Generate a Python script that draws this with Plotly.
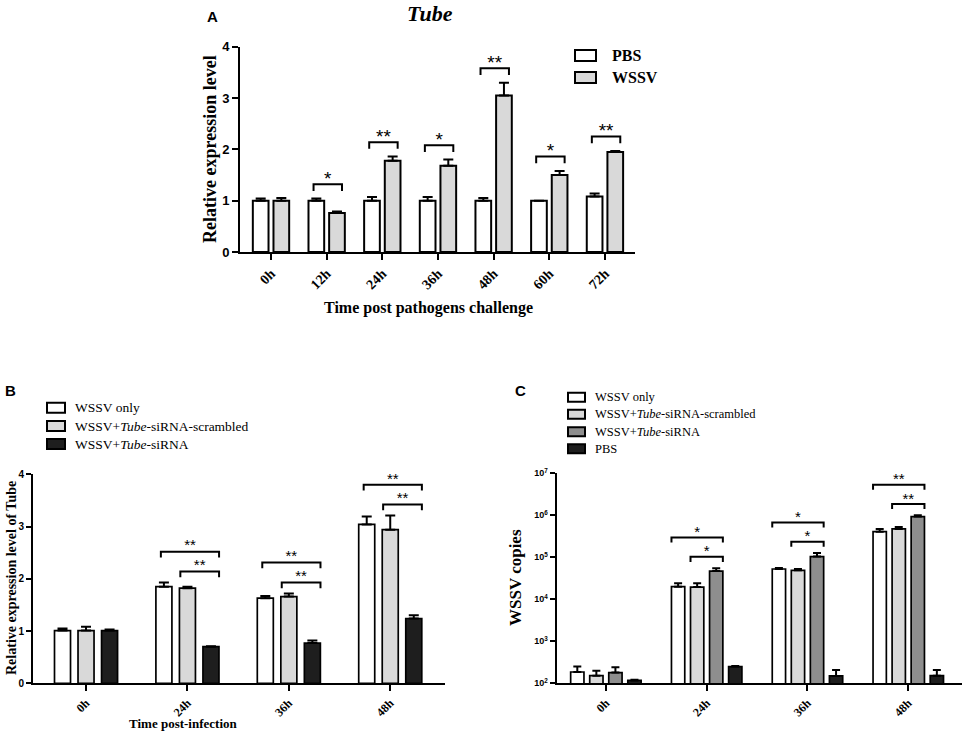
import plotly.graph_objects as go
import numpy as np

W, H = 964, 734

# ---- panel A: Tube expression after challenge
a_times = ["0h", "12h", "24h", "36h", "48h", "60h", "72h"]
a_pbs = [1.0, 1.0, 1.0, 1.0, 1.0, 1.0, 1.08]
a_pbs_err = [0.04, 0.04, 0.07, 0.07, 0.05, 0.0, 0.06]
a_wssv = [1.0, 0.76, 1.78, 1.68, 3.05, 1.5, 1.95]
a_wssv_err = [0.05, 0.03, 0.08, 0.12, 0.25, 0.08, 0.02]
a_sig = ["", "*", "**", "*", "**", "*", "**"]

# ---- panel B: Tube expression after knockdown
b_times = ["0h", "24h", "36h", "48h"]
b_only = [1.01, 1.85, 1.63, 3.04]
b_only_err = [0.04, 0.08, 0.04, 0.15]
b_scr = [1.01, 1.82, 1.66, 2.94]
b_scr_err = [0.07, 0.03, 0.06, 0.27]
b_si = [1.01, 0.70, 0.77, 1.24]
b_si_err = [0.02, 0.01, 0.05, 0.06]
b_sig_upper = ["", "**", "**", "**"]
b_sig_lower = ["", "**", "**", "**"]

# ---- panel C: WSSV copies
c_times = ["0h", "24h", "36h", "48h"]
c_only = [186, 20000, 52700, 408000]
c_only_err = [65, 4000, 3000, 65000]
c_scr = [152, 19600, 49000, 473000]
c_scr_err = [48, 4400, 3700, 54000]
c_si = [180, 47000, 104000, 930000]
c_si_err = [60, 8000, 22000, 70000]
c_pbs = [117, 250, 150, 152]
c_pbs_err = [5, 8, 57, 55]
c_sig_upper = ["", "*", "*", "**"]
c_sig_lower = ["", "*", "*", "**"]

SERIF = "Liberation Serif, Times New Roman, serif"
SANS = "Liberation Sans, Arial, sans-serif"
WHITE, LIGHT, MID, DARK = "#ffffff", "#d9d9d9", "#8e8e8e", "#1e1e1e"


def px(x):
    return x / W


def py(y):
    return 1 - y / H


fig = go.Figure()


def add_bars(values, errors, colors, slot, width, xa, ya, lw, cap):
    n = len(values)
    centers = []
    for k in range(n):
        dx = (k - (n - 1) / 2) * slot
        xs = [i + dx for i in range(len(values[k]))]
        centers.append(xs)
        fig.add_trace(go.Bar(
            x=xs, y=values[k], width=width,
            marker=dict(color=colors[k], line=dict(color="black", width=lw)),
            error_y=dict(type="data", symmetric=False, array=errors[k],
                         arrayminus=[0] * len(errors[k]),
                         color="black", thickness=2, width=cap),
            xaxis=xa, yaxis=ya, showlegend=False))
    return centers


def add_bracket(x0, x1, y, drop, label, xa, ya, size, star_shift, log=False):
    ys = [y - drop, y, y, y - drop]
    sy = y - star_shift
    if log:
        ys = [10 ** v for v in ys]
        sy = 10 ** sy
    fig.add_trace(go.Scatter(
        x=[x0, x0, x1, x1], y=ys, mode="lines",
        line=dict(color="black", width=2), cliponaxis=False,
        xaxis=xa, yaxis=ya, showlegend=False, hoverinfo="skip"))
    fig.add_trace(go.Scatter(
        x=[(x0 + x1) / 2], y=[sy], mode="text",
        text=[label], textposition="top center", cliponaxis=False,
        textfont=dict(family=SANS, size=size, color="black"),
        xaxis=xa, yaxis=ya, showlegend=False, hoverinfo="skip"))


# panel A bars
a_c = add_bars([a_pbs, a_wssv], [a_pbs_err, a_wssv_err], [WHITE, LIGHT],
               0.371, 0.282, "x", "y", 2, 5)
for i, s in enumerate(a_sig):
    if not s:
        continue
    top = max(a_pbs[i] + a_pbs_err[i], a_wssv[i] + a_wssv_err[i])
    add_bracket(a_c[0][i] - 0.05, a_c[1][i] + 0.09, top + 0.28, 0.13, s,
                "x", "y", 19, 0.11)

# panel B bars
b_c = add_bars([b_only, b_scr, b_si], [b_only_err, b_scr_err, b_si_err],
               [WHITE, LIGHT, DARK], 0.232, 0.158, "x2", "y2", 1.7, 5)
for i in range(len(b_times)):
    if not b_sig_upper[i]:
        continue
    top = max(b_only[i] + b_only_err[i], b_scr[i] + b_scr_err[i], b_si[i] + b_si_err[i])
    low = top + 0.21
    right = b_c[2][i] + 0.08
    add_bracket(b_c[1][i] - 0.07, right, low, 0.11, b_sig_lower[i], "x2", "y2", 15, 0.05)
    add_bracket(b_c[0][i] - 0.03, right, low + 0.38, 0.11, b_sig_upper[i], "x2", "y2", 15, 0.05)

# panel C bars
c_c = add_bars([c_only, c_scr, c_si, c_pbs],
               [c_only_err, c_scr_err, c_si_err, c_pbs_err],
               [WHITE, LIGHT, MID, DARK], 0.189, 0.132, "x3", "y3", 1.7, 4)
for i in range(len(c_times)):
    if not c_sig_upper[i]:
        continue
    top = max(c_only[i] + c_only_err[i], c_scr[i] + c_scr_err[i], c_si[i] + c_si_err[i])
    low = np.log10(top) + 0.27
    right = c_c[2][i] + 0.066
    add_bracket(c_c[1][i] - 0.066, right, low, 0.12, c_sig_lower[i], "x3", "y3", 15, 0.08, log=True)
    add_bracket(c_c[0][i] - 0.066, right, low + 0.46, 0.12, c_sig_upper[i], "x3", "y3", 15, 0.08, log=True)


def xaxis(dom, labels, rng, size):
    return dict(domain=dom, range=rng, tickvals=list(range(len(labels))),
                ticktext=["<b>%s</b>" % t for t in labels], tickangle=-45,
                tickfont=dict(family=SERIF, size=size, color="black"),
                showline=True, linecolor="black", linewidth=2,
                ticks="outside", ticklen=6, tickwidth=2, tickcolor="black",
                showgrid=False, zeroline=False, fixedrange=True, automargin=False)


def yaxis(dom, anchor, size, tlen, **kw):
    d = dict(domain=dom, anchor=anchor,
             tickfont=dict(family=SANS, size=size, color="black", weight="bold"),
             showline=True, linecolor="black", linewidth=2,
             ticks="outside", ticklen=tlen, tickwidth=2, tickcolor="black",
             showgrid=False, zeroline=False, fixedrange=True, automargin=False)
    d.update(kw)
    return d


xa = xaxis([px(240), px(635)], a_times, [-0.557, 6.54], 14)
xa["anchor"] = "y"
xb = xaxis([px(33), px(445)], b_times, [-0.523, 3.54], 12)
xb["anchor"] = "y2"
xc = xaxis([px(556.5), px(961.7)], c_times, [-0.49, 3.53], 12)
xc["anchor"] = "y3"

ya = yaxis([py(252), py(46.7)], "x", 13, 6, range=[0, 4], tickvals=[0, 1, 2, 3, 4])
yb = yaxis([py(683.3), py(474.3)], "x2", 10, 5, range=[0, 4], tickvals=[0, 1, 2, 3, 4])
yc = yaxis([py(683.3), py(473.3)], "x3", 9, 5, type="log", range=[2, 7],
           tickvals=[10 ** k for k in range(2, 8)],
           ticktext=["10<sup>%d</sup>" % k for k in range(2, 8)])

annotations = []


def label(text, x, y, size, family=SERIF, angle=0, xanchor="center", yanchor="middle"):
    annotations.append(dict(text=text, x=px(x), y=py(y), xref="paper", yref="paper",
                            showarrow=False, textangle=angle, xanchor=xanchor,
                            yanchor=yanchor,
                            font=dict(family=family, size=size, color="black")))


# panel letters and titles
label("<b>A</b>", 212, 17, 15, SANS)
label("<b><i>Tube</i></b>", 430, 14, 22)
label("<b>B</b>", 10, 390, 15, SANS)
label("<b>C</b>", 520, 390, 15, SANS)
label("<b>Relative expression level</b>", 210, 149, 18, angle=-90)
label("<b>Time post pathogens challenge</b>", 428, 308, 16)
label("<b>Relative expression level of Tube</b>", 11, 578, 14, angle=-90)
label("<b>Time post-infection</b>", 183, 723, 13)
label("<b>WSSV copies</b>", 515, 578, 17, angle=-90)

shapes = []


def legend(items, colors, box_x, box_w, box_h, rows, text_x, size, bold=False):
    for name, col, y in zip(items, colors, rows):
        shapes.append(dict(type="rect", xref="paper", yref="paper",
                           x0=px(box_x), x1=px(box_x + box_w),
                           y0=py(y + box_h / 2), y1=py(y - box_h / 2),
                           fillcolor=col, line=dict(color="black", width=2)))
        label("<b>%s</b>" % name if bold else name, text_x, y, size,
              xanchor="left")


legend(["PBS", "WSSV"], [WHITE, LIGHT], 575, 21, 11, [55.5, 77.5], 610, 16, bold=True)
legend(["WSSV only", "WSSV+<i>Tube</i>-siRNA-scrambled", "WSSV+<i>Tube</i>-siRNA"],
       [WHITE, LIGHT, DARK], 47, 18, 10, [407.7, 426, 444], 73, 13.5)
legend(["WSSV only", "WSSV+<i>Tube</i>-siRNA-scrambled", "WSSV+<i>Tube</i>-siRNA", "PBS"],
       [WHITE, LIGHT, MID, DARK], 568, 17, 9, [397.3, 414.3, 431.7, 448.7], 593, 12.5)

fig.update_layout(
    width=W, height=H,
    margin=dict(l=0, r=0, t=0, b=0, autoexpand=False),
    paper_bgcolor="white", plot_bgcolor="white",
    barmode="overlay", showlegend=False,
    xaxis=xa, yaxis=ya, xaxis2=xb, yaxis2=yb, xaxis3=xc, yaxis3=yc,
    annotations=annotations, shapes=shapes)

# page body has a default margin; drop it so the figure sits at the corner
fig.write_html("out.html", config={"displayModeBar": False},
               post_script="document.body.style.margin='0';")
